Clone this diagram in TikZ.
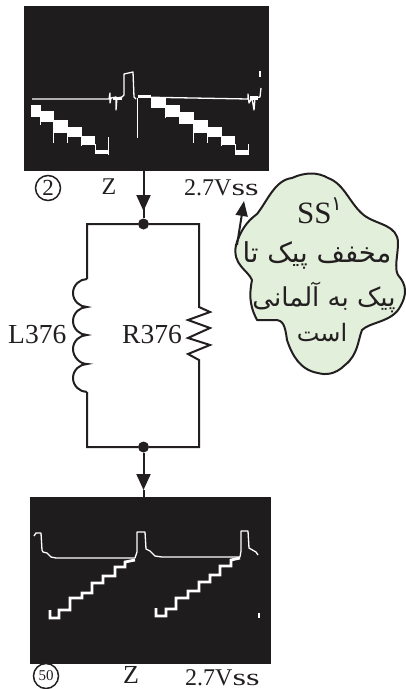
\documentclass[tikz,border=0pt]{standalone}
\usepackage{fontspec}
\usepackage{graphicx}
\setmainfont{Liberation Serif}
\newfontfamily\arabicfont[Script=Arabic]{DejaVu Sans}
\TeXXeTstate=1
\usetikzlibrary{arrows.meta,calc}
\definecolor{cloudgreen}{HTML}{E2EFDB}
\definecolor{ink}{HTML}{231F20}
\definecolor{scope}{HTML}{1E1C1D}
\tikzset{
  wire/.style={draw=ink,line width=2pt},
  head/.style={-{Triangle[length=16pt,width=14pt]}},
  joint/.style={circle,fill=ink,inner sep=0pt,minimum size=11pt},
  screen/.style={draw=none,fill=scope,inner sep=0pt,anchor=north west},
  lab/.style={inner sep=0pt,text=ink,font=\fontsize{24}{24}\selectfont},
  biglab/.style={inner sep=0pt,text=ink,font=\fontsize{27.5}{28}\selectfont},
  trace/.style={draw=white,line width=1.3pt,line join=round},
  stair/.style={draw=white,line width=2.8pt},
  blk/.style={fill=white,draw=none},
  circnum/.style={circle,draw=ink,line width=1.5pt,inner sep=0pt,minimum size=25pt,text=ink},
  fa/.style={inner sep=0pt,text=ink},
}
\newcommand{\vsslabel}{2.7V\scalebox{1.45}[1]{ss}}
\begin{document}
\begin{tikzpicture}[x=1pt,y=-1pt]
\useasboundingbox (0,0) rectangle (406,689);
% screens
\node[screen,minimum width=245pt,minimum height=165pt] (scrA) at (24,6) {};
\node[screen,minimum width=241pt,minimum height=167pt] (scrB) at (30,497) {};
% top trace
\draw[trace] (32,99) -- (109,99) -- (110,93) -- (110,103) -- (111,98) -- (116,97) -- (116,110) -- (117,98) -- (122,97) -- (124,95) -- (124,74) -- (133,72) -- (134,97) -- (136,99);
\draw[white,line width=0.8pt] (137,98) -- (137,138);
\draw[trace] (138,97) -- (248,99) -- (248,94) -- (249,103) -- (252,98) -- (254,110) -- (255,98) -- (260,97) -- (261,88);
\fill[white] (259,71) rectangle (261,77);
\fill[white] (113,97) rectangle (122,100);
\fill[white] (250,96) rectangle (258,100);
\fill[white] (138,95) rectangle (151,98);
% top left stairs
\fill[blk] (31,105) rectangle (41,117);
\fill[blk] (40,111) rectangle (54,122);
\fill[blk] (53,120) rectangle (68,133);
\fill[blk] (67,127) rectangle (82,137);
\fill[blk] (81,136) rectangle (95,145);
\fill[blk] (95,150) rectangle (108,154);
\draw[white,line width=0.8pt] (40,112)--(40,125) (53,120)--(53,143) (67,130)--(67,143) (81,136)--(81,146) (95,144)--(95,153) (108,137)--(108,155);
% top right stairs
\fill[blk] (151,97) rectangle (166,108);
\fill[blk] (165,105) rectangle (180,117);
\fill[blk] (179,112) rectangle (194,124);
\fill[blk] (193,120) rectangle (208,133);
\fill[blk] (207,127) rectangle (222,137);
\fill[blk] (221,136) rectangle (235,145);
\fill[blk] (235,150) rectangle (248,155);
\draw[white,line width=0.8pt] (165,100)--(165,118) (193,120)--(193,143) (207,130)--(207,143) (221,136)--(221,146) (235,144)--(235,153) (248,144)--(248,155);
% bottom trace
\draw[trace] (34,536) -- (36,533) -- (41,533) -- (42,550) -- (43,552) -- (47,553) -- (51,557) -- (56,558) -- (135,558) -- (137,552) -- (137,532) -- (145,532) -- (146,549) -- (150,551) -- (155,556) -- (162,557) -- (240,557) -- (241,551) -- (241,531) -- (248,531) -- (249,548) -- (256,552) -- (258,555);
\draw[stair] (50,610) -- (50,618) -- (59,618) -- (59,610) -- (70,610) -- (70,598) -- (82,598) -- (82,593) -- (92,593) -- (92,583) -- (103,583) -- (103,576) -- (115,576) -- (115,567) -- (125,567) -- (125,562) -- (135,560);
\draw[stair] (156,608) -- (156,616) -- (166,616) -- (166,609) -- (176,609) -- (176,598) -- (188,598) -- (188,591) -- (199,591) -- (199,582) -- (210,582) -- (210,575) -- (220,575) -- (220,566) -- (231,566) -- (231,560) -- (240,558);
\fill[white] (258,613) rectangle (260,618);
% labels
\node[circnum,font=\fontsize{23}{24}\selectfont] (numA) at (48,188) {2};
\node[inner sep=0pt,text=ink,anchor=base,font=\fontsize{24}{24}\selectfont] (zA) at (109,194) {Z};
\node[lab,anchor=base west] (vA) at (184,195) {\vsslabel};
\node[circnum,font=\fontsize{15}{16}\selectfont] (numB) at (46,676) {50};
\node[inner sep=0pt,text=ink,anchor=base,font=\fontsize{26}{26}\selectfont] (zB) at (131,683) {Z};
\node[lab,anchor=base west] (vB) at (185,685) {\vsslabel};
% circuit
\node[joint] (jTop) at (143.5,224) {};
\node[joint] (jBot) at (143.5,447) {};
\coordinate (tipB) at (143.5,490);
\draw[wire,head] (scrA.south west -| jTop) -- (143.5,211);
\draw[wire] (143.5,205) -- (jTop);
\draw[wire,head] (jBot) -- (tipB);
\draw[wire] (tipB) -- (scrB.north west -| jBot);
\coordinate (lT) at (87,224);
\coordinate (rT) at (199,224);
\coordinate (lB) at (87,447);
\coordinate (rB) at (199,447);
\draw[wire,line join=miter] (87,279) -- (lT) -- (jTop) -- (rT) -- (199,307) -- (210,312) -- (188,320) -- (210,328) -- (188,338) -- (210,345) -- (188,354) -- (199,360) -- (rB) -- (jBot) -- (lB) -- (87,392);
\draw[wire] (87,279)
  .. controls (80,279) and (73,285) .. (73,293) .. controls (73,301) and (80,307) .. (87,307)
  .. controls (80,307) and (73,313) .. (73,321) .. controls (73,329) and (80,335) .. (87,335)
  .. controls (80,335) and (73,341) .. (73,349) .. controls (73,357) and (80,364) .. (87,364)
  .. controls (80,364) and (73,370) .. (73,378) .. controls (73,386) and (80,392) .. (87,392);
\node[biglab,anchor=base west] (lName) at (8,343) {L376};
\node[biglab,anchor=base west] (rName) at (122,343) {R376};
% cloud
\draw[draw=ink,line width=2pt,fill=cloudgreen,line join=round] (236,245)
 .. controls (240,232) and (246,222) .. (257,214)
 .. controls (268,200) and (275,180) .. (292,178)
 .. controls (305,172) and (318,172) .. (328,178)
 .. controls (345,184) and (350,205) .. (365,216)
 .. controls (378,225) and (398,225) .. (398,243)
 .. controls (398,255) and (394,268) .. (398,275)
 .. controls (407,285) and (407,295) .. (400,307)
 .. controls (392,322) and (370,322) .. (362,330)
 .. controls (358,340) and (358,355) .. (345,365)
 .. controls (335,375) and (325,375) .. (318,373)
 .. controls (300,370) and (292,355) .. (287,340)
 .. controls (285,325) and (283,320) .. (275,320)
 -- (257,320)
 .. controls (252,310) and (248,300) .. (252,280)
 .. controls (248,270) and (232,265) .. (236,245) -- cycle;
\coordinate (cloudEdge) at (237,245);
\coordinate (cloudTip) at (244,201);
\draw[wire,-{Triangle[length=15pt,width=12pt]}] (cloudEdge) -- (cloudTip);
\node[inner sep=0pt,text=ink,anchor=base west,font=\fontsize{31}{32}\selectfont] (ss) at (297,223) {SS};
\node[fa,anchor=base west,font=\arabicfont\fontsize{20}{20}\selectfont] (sup) at (331,210) {\beginR ۱\endR};
\node[fa,anchor=base,font=\arabicfont\fontsize{27.5}{28}\selectfont] (fa1) at (317,262) {\beginR مخفف پیک تا\endR};
\node[fa,anchor=base,font=\arabicfont\fontsize{26}{28}\selectfont] (fa2) at (324,306) {\beginR پیک به آلمانی\endR};
\node[fa,anchor=base,font=\arabicfont\fontsize{24}{28}\selectfont] (fa3) at (322,341) {\beginR است\endR};
\end{tikzpicture}
\end{document}
